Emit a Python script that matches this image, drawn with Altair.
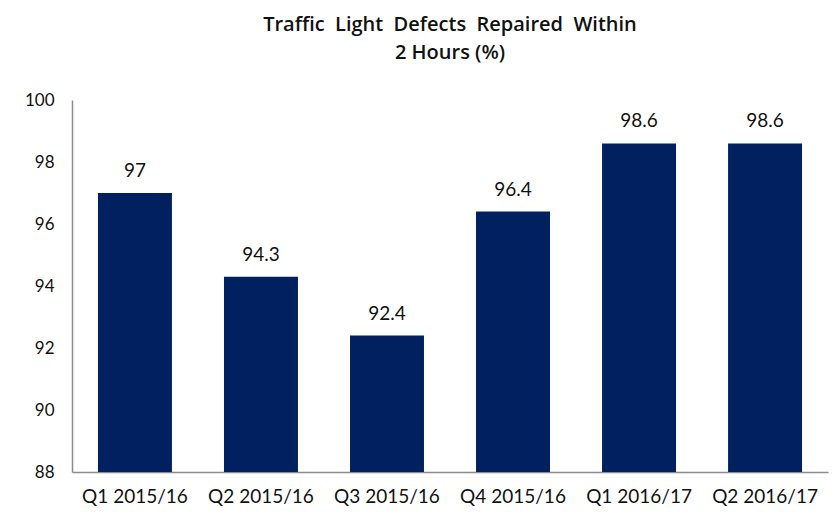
import altair as alt
import pandas as pd

quarters = ["Q1 2015/16", "Q2 2015/16", "Q3 2015/16", "Q4 2015/16", "Q1 2016/17", "Q2 2016/17"]
values = [97, 94.3, 92.4, 96.4, 98.6, 98.6]
y_ticks = [88, 90, 92, 94, 96, 98, 100]

df = pd.DataFrame({"quarter": quarters, "value": values})

FONT = "Lato"
SP = "\u00a0 "
title_lines = [
    SP.join(["Traffic", "Light", "Defects", "Repaired", "Within"]),
    "2 Hours (%)",
]

x = alt.X("quarter:N", sort=quarters, title=None,
          scale=alt.Scale(paddingInner=0.413, paddingOuter=0.206),
          axis=alt.Axis(labelAngle=0, ticks=False, labelPadding=15, labelFontSize=19,
                        labelColor="#111111", domainColor="#8c8c8c", domainWidth=1.5,
                        labelFont=FONT))
y = alt.Y("value:Q", title=None,
          scale=alt.Scale(domain=[88, 100], nice=False, zero=False, clamp=True),
          axis=alt.Axis(values=y_ticks, ticks=False, grid=False, labelPadding=18,
                        labelFontSize=17, labelColor="#111111", domainColor="#8c8c8c",
                        domainWidth=1.5, labelFont=FONT))

base = alt.Chart(df)
bars = base.mark_bar(color="#002060").encode(x=x, y=y, y2=alt.datum(88))
labels = base.mark_text(baseline="alphabetic", dy=-16, fontSize=19, font=FONT, color="#111111").encode(
    x=alt.X("quarter:N", sort=quarters), y="value:Q", text=alt.Text("value:Q"))

chart = (bars + labels).properties(
    width=756, height=372,
    title=alt.TitleParams(title_lines,
                          fontSize=20, fontWeight=600, font="Open Sans", color="#111111",
                          lineHeight=28, offset=28, anchor="middle"),
    autosize=alt.AutoSizeParams(type="none"),
    padding={"left": 64, "top": 92, "right": 1, "bottom": 38},
).configure_view(stroke=None)

chart.save("out.html", embed_options={"renderer": "svg", "actions": False})
